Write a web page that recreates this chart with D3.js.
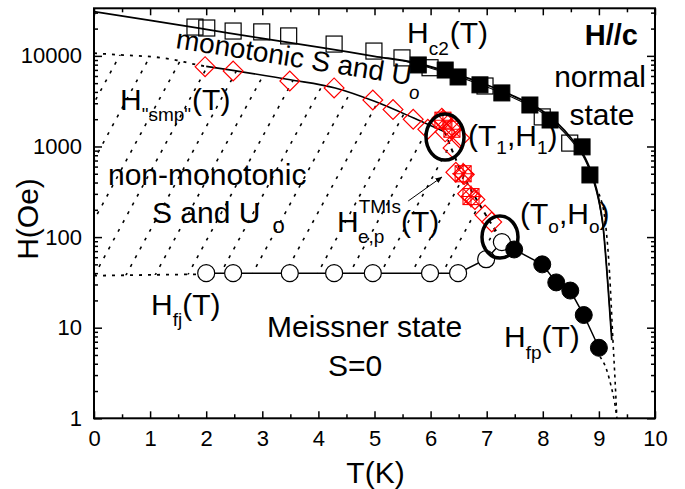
<!DOCTYPE html>
<html><head><meta charset="utf-8">
<script src="https://cdn.jsdelivr.net/npm/d3@7"></script>
<style>
body{margin:0;background:#fff}
text{font-family:"Liberation Sans",Arial,Helvetica,sans-serif;fill:#000}
</style>
</head><body>
<svg id="c" width="685" height="489"></svg>
<script>
// ---------------- data (T in K, H in Oe) ----------------
const xTickValues = [0,1,2,3,4,5,6,7,8,9,10];
const xMinorValues = [0.5,1.5,2.5,3.5,4.5,5.5,6.5,7.5,8.5,9.5];
const yTickValues = [1,10,100,1000,10000];
const yTop = 33500;

// Hc2 open squares
const hc2OpenT = [1.80,2.01,2.48,2.99,3.47,4.28,4.99,5.49,5.99,6.97,7.99,8.48];
const hc2OpenH = [20800,20300,18800,18400,16600,13500,11300,9500,7400,4650,2120,1090];
// Hc2 filled squares
const hc2FillT = [5.78,6.26,6.49,6.88,7.27,7.77,8.13,8.70,8.84];
const hc2FillH = [7940,6980,5850,4790,3900,2870,1960,990,485];
// Hc2 fit lines
const hc2LineT = [0,1,2,3,4,5,5.7,6.3,6.9,7.5,8.0,8.5,8.75,8.9,9.0,9.07,9.16,9.23];
const hc2LineH = [30800,24600,19600,15600,12500,9900,8450,6700,5050,3550,2450,1250,760,450,260,140,30,7.3];
const hc2Line2T = [5.5,6.3,6.9,7.5,8.0,8.5,8.75,8.9,9.0,9.08,9.17,9.22];
const hc2Line2H = [8900,6450,4800,3380,2330,1180,720,420,240,120,25,9];
const hc2DotT = [9.0,9.13,9.19,9.25,9.29,9.32];
const hc2DotH = [300,120,40,7.3,2.5,1];

// H"smp" dotted boundary and Hep lines
const hsmpT = [0,0.52,1.12,1.48,1.71,2.0];
const hsmpH = [10700,10200,9660,8940,8280,7650];
const hepSolidT = [2.0,3.5,4.3,5.0,5.7,6.25];
const hepSolidH = [7650,5450,4420,3150,2060,1450];
const hepDashT = [6.25,6.38,6.49,6.67,6.88,7.06,7.24];
const hepDashH = [1450,920,630,376,225,147,100];

// red diamonds
const diaT = [1.98,2.48,3.49,4.28,4.97,5.33,5.69,5.95,6.20,6.26,6.40,6.52,6.40,6.45,6.60,6.66,6.79,6.97,7.09];
const diaH = [7600,6800,5290,4430,3260,2560,2000,1550,2050,1450,1640,1240,960,520,490,300,260,175,147];
// red crossed markers
const crossT = [6.22,6.38,6.58,6.72];
const crossH = [1950,1550,500,280];

// Hfj open circles
const hfjT = [2.0,2.48,3.49,4.28,4.97,5.99,6.49,6.99,7.27];
const hfjH = [40,40,40,40,40,40,40,57,88];
const hfjDotT = [0,2.0];
const hfjDotH = [37.5,39];
// Hfp filled circles
const hfpT = [7.49,7.99,8.24,8.49,8.73,9.0];
const hfpH = [73,50,31.6,25.7,13.8,6.0];
const hfpDotT = [9.02,9.14,9.22,9.28,9.32];
const hfpDotH = [4.8,3.4,2.23,1.5,1.03];

// special points (T1,H1) and (To,Ho)
const specialT = [6.257,7.237];
const specialH = [1270,100];

// hatch lines: bottom T position at H=30, rising 3 decades over hatchDT
const hatchT0 = [-2.3,-1.75,-1.2,-0.62,-0.08,0.48,1.0,1.58,2.15,2.72,3.3,3.88,4.45,5.0,5.55,6.1,6.62,7.1];
const hatchDT = 2.62;

// arrow (from label to Hep line)
const arrowT = [5.6,6.2];
const arrowH = [250,460];

// ---------------- drawing ----------------
const zip = (a,b)=>a.map((v,i)=>[v,b[i]]);
const svg = d3.select("#c");
const L=94, R=655, T=8.3, B=418.3;
const x = d3.scaleLinear().domain([0,10]).range([L,R]);
const y = d3.scaleLog().domain([1,yTop]).range([B,T]);
const line = d3.line().x(d=>x(d[0])).y(d=>y(d[1]));
const curve = d3.line().x(d=>x(d[0])).y(d=>y(d[1])).curve(d3.curveMonotoneX);

// clip for the plot
svg.append("clipPath").attr("id","plotclip").append("rect")
  .attr("x",L).attr("y",T).attr("width",R-L).attr("height",B-T);

// hatch region clip
const regionPts = zip(hsmpT,hsmpH)
  .concat(zip(hepSolidT,hepSolidH).slice(1))
  .concat(zip(hepDashT,hepDashH).slice(1))
  .concat(zip(hfjT,hfjH).reverse())
  .concat(zip(hfjDotT,hfjDotH).reverse());
svg.append("clipPath").attr("id","hatchclip").append("path")
  .attr("d", line(regionPts)+"Z");

const hatchG = svg.append("g").attr("clip-path","url(#hatchclip)");
hatchG.selectAll("path").data(hatchT0).join("path")
  .attr("d", t0 => line([[t0,30],[t0+hatchDT,30000]]))
  .attr("fill","none").attr("stroke","#000").attr("stroke-width",1.6)
  .attr("stroke-dasharray","3,7");

const plot = svg.append("g").attr("clip-path","url(#plotclip)");

// Hc2 lines
plot.append("path").attr("d",curve(zip(hc2LineT,hc2LineH)))
  .attr("fill","none").attr("stroke","#000").attr("stroke-width",1.8);
plot.append("path").attr("d",curve(zip(hc2Line2T,hc2Line2H)))
  .attr("fill","none").attr("stroke","#000").attr("stroke-width",1.1);
plot.append("path").attr("d",curve(zip(hc2DotT,hc2DotH)))
  .attr("fill","none").attr("stroke","#000").attr("stroke-width",1.6).attr("stroke-dasharray","3,4");

// Hsmp dotted & Hep
plot.append("path").attr("d",curve(zip(hsmpT,hsmpH)))
  .attr("fill","none").attr("stroke","#000").attr("stroke-width",1.8).attr("stroke-dasharray","3,6");
plot.append("path").attr("d",curve(zip(hepSolidT,hepSolidH)))
  .attr("fill","none").attr("stroke","#000").attr("stroke-width",1.6);
plot.append("path").attr("d",curve(zip(hepDashT,hepDashH)))
  .attr("fill","none").attr("stroke","#000").attr("stroke-width",2).attr("stroke-dasharray","4,5");

// Hfj / Hfp lines
plot.append("path").attr("d",line(zip(hfjDotT,hfjDotH)))
  .attr("fill","none").attr("stroke","#000").attr("stroke-width",1.8).attr("stroke-dasharray","3,6");
plot.append("path").attr("d",line(zip(hfjT,hfjH).concat(zip(hfpT,hfpH))))
  .attr("fill","none").attr("stroke","#000").attr("stroke-width",1.5);
plot.append("path").attr("d",curve(zip(hfpDotT,hfpDotH)))
  .attr("fill","none").attr("stroke","#000").attr("stroke-width",1.6).attr("stroke-dasharray","3,4");

// markers
const sq = 16;
plot.selectAll(".os").data(zip(hc2OpenT,hc2OpenH)).join("rect").attr("class","os")
  .attr("x",d=>x(d[0])-sq/2).attr("y",d=>y(d[1])-sq/2).attr("width",sq).attr("height",sq)
  .attr("fill","none").attr("stroke","#000").attr("stroke-width",1.2);
plot.selectAll(".fs").data(zip(hc2FillT,hc2FillH)).join("rect").attr("class","fs")
  .attr("x",d=>x(d[0])-sq/2).attr("y",d=>y(d[1])-sq/2).attr("width",sq).attr("height",sq)
  .attr("fill","#000").attr("stroke","#000").attr("stroke-width",1);

const ds = 14;
plot.selectAll(".dia").data(zip(diaT,diaH)).join("rect").attr("class","dia")
  .attr("x",-ds/2).attr("y",-ds/2).attr("width",ds).attr("height",ds)
  .attr("transform",d=>`translate(${x(d[0])},${y(d[1])}) rotate(45)`)
  .attr("fill","none").attr("stroke","#ff0000").attr("stroke-width",1.2);
const cg = plot.selectAll(".cr").data(zip(crossT,crossH)).join("g").attr("class","cr")
  .attr("transform",d=>`translate(${x(d[0])},${y(d[1])})`);
cg.append("rect").attr("x",-8).attr("y",-8).attr("width",16).attr("height",16)
  .attr("fill","none").attr("stroke","#ff0000").attr("stroke-width",1.1);
cg.append("path").attr("d","M-8,-8L8,8M8,-8L-8,8M0,-11L0,11M-11,0L11,0")
  .attr("stroke","#ff0000").attr("stroke-width",1.1);
cg.append("rect").attr("x",-ds/2).attr("y",-ds/2).attr("width",ds).attr("height",ds)
  .attr("transform","rotate(45)").attr("fill","none").attr("stroke","#ff0000").attr("stroke-width",1.1);

const cr = 8.5;
plot.selectAll(".oc").data(zip(hfjT,hfjH)).join("circle").attr("class","oc")
  .attr("cx",d=>x(d[0])).attr("cy",d=>y(d[1])).attr("r",cr)
  .attr("fill","#fff").attr("stroke","#000").attr("stroke-width",1.2);
plot.selectAll(".fc").data(zip(hfpT,hfpH)).join("circle").attr("class","fc")
  .attr("cx",d=>x(d[0])).attr("cy",d=>y(d[1])).attr("r",cr)
  .attr("fill","#000").attr("stroke","#000").attr("stroke-width",1);

// special ellipses
const ellR = [[19,23],[18,21]];
plot.selectAll(".el").data(zip(specialT,specialH)).join("ellipse").attr("class","el")
  .attr("cx",d=>x(d[0])).attr("cy",d=>y(d[1]))
  .attr("rx",(d,i)=>ellR[i][0]).attr("ry",(d,i)=>ellR[i][1])
  .attr("fill","none").attr("stroke","#000").attr("stroke-width",3.5);

// arrow
svg.append("defs").append("marker").attr("id","ah").attr("viewBox","0 0 10 10")
  .attr("refX",9).attr("refY",5).attr("markerWidth",7).attr("markerHeight",7)
  .attr("orient","auto").attr("markerUnits","userSpaceOnUse")
  .append("path").attr("d","M0,1L10,5L0,9Z").attr("fill","#000");
svg.append("path").attr("d",line(zip(arrowT,arrowH)))
  .attr("stroke","#000").attr("stroke-width",1).attr("fill","none").attr("marker-end","url(#ah)");

// ---------------- axes ----------------
const tickFont = 22;
function styleAxis(g){
  g.select(".domain").remove();
  g.selectAll(".tick line").attr("stroke","#000").attr("stroke-width",1.5);
  g.selectAll("text").attr("font-size",tickFont).attr("font-family","Liberation Sans, Arial, sans-serif").attr("fill","#000");
}
svg.append("g").attr("transform",`translate(0,${B})`)
  .call(d3.axisBottom(x).tickValues(xTickValues).tickFormat(d3.format("d")).tickSize(-7).tickPadding(12)).call(styleAxis);
svg.append("g").attr("transform",`translate(0,${B})`)
  .call(d3.axisBottom(x).tickValues(xMinorValues).tickFormat("").tickSize(-4)).call(styleAxis);
svg.append("g").attr("transform",`translate(0,${T})`)
  .call(d3.axisTop(x).tickValues(xTickValues).tickFormat("").tickSize(-7)).call(styleAxis);
svg.append("g").attr("transform",`translate(0,${T})`)
  .call(d3.axisTop(x).tickValues(xMinorValues).tickFormat("").tickSize(-4)).call(styleAxis);

const yMinor = y.ticks().filter(v=>!yTickValues.includes(v));
svg.append("g").attr("transform",`translate(${L},0)`)
  .call(d3.axisLeft(y).tickValues(yTickValues).tickFormat(d3.format("d")).tickSize(-8).tickPadding(12)).call(styleAxis);
svg.append("g").attr("transform",`translate(${L},0)`)
  .call(d3.axisLeft(y).tickValues(yMinor).tickFormat("").tickSize(-4)).call(styleAxis);
svg.append("g").attr("transform",`translate(${R},0)`)
  .call(d3.axisRight(y).tickValues(yTickValues).tickFormat("").tickSize(-8)).call(styleAxis);
svg.append("g").attr("transform",`translate(${R},0)`)
  .call(d3.axisRight(y).tickValues(yMinor).tickFormat("").tickSize(-4)).call(styleAxis);

svg.append("rect").attr("x",L).attr("y",T).attr("width",R-L).attr("height",B-T)
  .attr("fill","none").attr("stroke","#000").attr("stroke-width",2);

// ---------------- labels ----------------
const FS = 30, SUB = 19;
function label(px, py, parts, opts={}){
  const t = svg.append("text").attr("x",px).attr("y",py).attr("font-size",opts.size||FS);
  if(opts.weight) t.attr("font-weight",opts.weight);
  if(opts.anchor) t.attr("text-anchor",opts.anchor);
  if(opts.transform) t.attr("transform",opts.transform);
  let cur = 0;
  parts.forEach(p=>{
    const s = t.append("tspan").text(p.t);
    if(p.size) s.attr("font-size",p.size);
    const dy = (p.dy||0) - cur;
    if(dy) s.attr("dy",dy);
    cur = p.dy||0;
    if(p.x!==undefined) s.attr("x",p.x);
    if(p.dx) s.attr("dx",p.dx);
  });
  return t;
}
label(407, 43, [{t:"H"},{t:"c2",size:SUB,dy:12},{t:"(T)",dx:1}]);
label(638, 45, [{t:"H//c"}], {weight:"bold", anchor:"end", size:29});
label(600, 87, [{t:"normal"}], {anchor:"middle"});
label(602, 125, [{t:"state"}], {anchor:"middle"});
label(175, 48, [{t:"monotonic S and U"},{t:"o",size:SUB,dy:13}], {transform:"rotate(9,175,48)", size:28});
label(120, 110, [{t:"H"},{t:"\"smp\"",size:SUB,dy:11},{t:"(T)",dx:1}]);
label(108, 185, [{t:"non-monotonic"}]);
label(152, 223, [{t:"S and U"},{t:"o",size:22,dy:10,dx:12}]);
label(337, 232, [{t:"H"},{t:"TMIs",size:SUB,dy:-19},{t:"e,p",size:SUB,dy:11,x:358},{t:"(T)",x:401}]);
label(468, 146, [{t:"(T"},{t:"1",size:SUB,dy:8},{t:",H"},{t:"1",size:SUB,dy:8},{t:")"}]);
label(520, 224, [{t:"(T"},{t:"o",size:SUB,dy:9},{t:",H"},{t:"o",size:SUB,dy:9},{t:")"}]);
label(151, 315, [{t:"H"},{t:"fj",size:SUB,dy:11},{t:"(T)"}]);
label(267, 337, [{t:"Meissner state"}]);
label(328, 376, [{t:"S=0"}]);
label(504, 347, [{t:"H"},{t:"fp",size:SUB,dy:12},{t:"(T)"}]);

svg.append("text").attr("x",(L+R)/2+1).attr("y",483).attr("text-anchor","middle")
  .attr("font-size",30).text("T(K)");
svg.append("text").attr("transform","translate(38,219) rotate(-90)").attr("text-anchor","middle")
  .attr("font-size",30).text("H(Oe)");
</script>
</body></html>
